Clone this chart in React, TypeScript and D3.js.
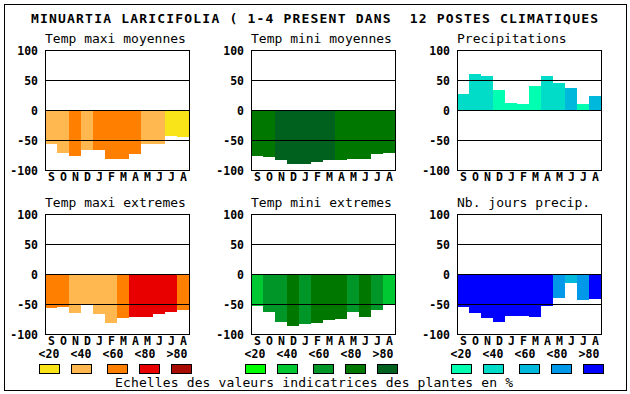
import React from "react";
import * as d3 from "d3";

const months = ["S", "O", "N", "D", "J", "F", "M", "A", "M", "J", "J", "A"];
const ticks = [100, 50, 0, -50, -100];
const gridVals = [50, 0, -50];
const classLabels = ["<20", "<40", "<60", "<80", ">80"];

// palettes (yellow->dark red, greens, blues)
const warmColors = ["#F8E418", "#FFB84F", "#FF8000", "#E80000", "#A80C00"];
const greenColors = ["#00FF00", "#00C832", "#009628", "#007800", "#00601E"];
const blueColors = ["#00FFB0", "#00DCC8", "#00B8DC", "#0098E8", "#0000FF"];

// values per month (S..A) and colour class (0..4)
const tmaxMoy = [-56, -72, -77, -66, -67, -81, -81, -74, -57, -57, -44, -45];
const tmaxMoyCls = [1, 1, 2, 1, 2, 2, 2, 2, 1, 1, 0, 0];
const tminMoy = [-76, -78, -84, -90, -90, -87, -84, -84, -82, -82, -74, -72];
const tminMoyCls = [3, 3, 4, 4, 4, 4, 4, 3, 3, 3, 3, 3];
const precip = [27, 60, 57, 34, 12, 10, 40, 57, 45, 37, 10, 24];
const precipCls = [1, 1, 1, 0, 0, 0, 0, 1, 1, 2, 0, 2];
const tmaxExt = [-57, -55, -65, -52, -67, -82, -74, -71, -71, -67, -64, -60];
const tmaxExtCls = [2, 2, 1, 1, 1, 1, 2, 3, 3, 3, 3, 2];
const tminExt = [-54, -64, -80, -86, -84, -82, -77, -75, -64, -71, -60, -52];
const tminExtCls = [1, 2, 2, 3, 2, 3, 3, 3, 2, 3, 2, 1];
const nbJours = [-55, -65, -74, -80, -70, -70, -72, -54, -40, -15, -44, -42];
const nbJoursCls = [4, 4, 4, 4, 4, 4, 4, 4, 3, 2, 3, 4];

const panels = [
  { title: "Temp maxi moyennes", values: tmaxMoy, cls: tmaxMoyCls, colors: warmColors, col: 0, row: 0 },
  { title: "Temp mini moyennes", values: tminMoy, cls: tminMoyCls, colors: greenColors, col: 1, row: 0 },
  { title: "Precipitations", values: precip, cls: precipCls, colors: blueColors, col: 2, row: 0 },
  { title: "Temp maxi extremes", values: tmaxExt, cls: tmaxExtCls, colors: warmColors, col: 0, row: 1 },
  { title: "Temp mini extremes", values: tminExt, cls: tminExtCls, colors: greenColors, col: 1, row: 1 },
  { title: "Nb. jours precip.", values: nbJours, cls: nbJoursCls, colors: blueColors, col: 2, row: 1 },
];

const legends = [warmColors, greenColors, blueColors];

const mono = "'DejaVu Sans Mono', monospace";
const W = 144;
const H = 120;

const Panel = ({ p }) => {
  const x0 = 45 + p.col * 206;
  const y0 = 50 + p.row * 164;
  const x = d3.scaleBand().domain(d3.range(12)).range([x0, x0 + W]).padding(0);
  const y = d3.scaleLinear().domain([-100, 100]).range([y0 + H, y0]);

  return (
    <g>
      <text x={x0} y={y0 - 7.5} fontFamily={mono} fontSize={13} fill="#000">
        {p.title}
      </text>
      {p.values.map((v, i) => (
        <rect
          key={i}
          x={x(i)}
          width={x.bandwidth()}
          y={Math.min(y(0), y(v))}
          height={Math.abs(y(v) - y(0))}
          fill={p.colors[p.cls[i]]}
          shapeRendering="crispEdges"
        />
      ))}
      {gridVals.map((g) => (
        <line
          key={g}
          x1={x0}
          x2={x0 + W}
          y1={y(g) + 0.5}
          y2={y(g) + 0.5}
          stroke="#000"
          strokeWidth={1}
          shapeRendering="crispEdges"
        />
      ))}
      <rect
        x={x0 + 0.5}
        y={y0 + 0.5}
        width={W}
        height={H}
        fill="none"
        stroke="#000"
        strokeWidth={1}
        shapeRendering="crispEdges"
      />
      {ticks.map((t) => (
        <text
          key={t}
          x={x0 - 7}
          y={y(t)}
          dy="0.4em"
          textAnchor="end"
          fontFamily={mono}
          fontWeight="bold"
          fontSize={11.5}
          fill="#000"
        >
          {t}
        </text>
      ))}
      {months.map((m, i) => (
        <text
          key={i}
          x={x(i) + x.bandwidth() / 2 + 0.5}
          y={y0 + H + 11}
          textAnchor="middle"
          fontFamily={mono}
          fontWeight="bold"
          fontSize={11.5}
          fill="#000"
        >
          {m}
        </text>
      ))}
    </g>
  );
};

export default function App() {
  return (
    <svg
      width={630}
      height={394}
      style={{ position: "absolute", left: 0, top: 0, display: "block", background: "#fff" }}
    >
      <rect x={0} y={0} width={630} height={394} fill="#fff" />
      <rect
        x={4.5}
        y={4.5}
        width={622}
        height={386}
        fill="none"
        stroke="#000"
        strokeWidth={1}
        shapeRendering="crispEdges"
      />
      <text
        x={31}
        y={22.5}
        fontFamily={mono}
        fontWeight="bold"
        fontSize={13}
        textLength={567}
        lengthAdjust="spacing"
        fill="#000"
        style={{ whiteSpace: "pre" }}
      >
        {"MINUARTIA LARICIFOLIA ( 1-4 PRESENT DANS  12 POSTES CLIMATIQUES"}
      </text>
      {panels.map((p, k) => (
        <Panel key={k} p={p} />
      ))}
      {legends.map((cols, g) => (
        <g key={g} transform={`translate(${g * 206},0)`}>
          {classLabels.map((lab, i) => (
            <text
              key={lab}
              x={49 + i * 32}
              y={357.5}
              textAnchor="middle"
              fontFamily={mono}
              fontWeight="bold"
              fontSize={11.5}
              fill="#000"
            >
              {lab}
            </text>
          ))}
          {cols.map((c, i) => (
            <rect
              key={i}
              x={39.5 + i * 32 + (i >= 2 ? 4 : 0)}
              y={364.5}
              width={20}
              height={9}
              fill={c}
              stroke="#000"
              strokeWidth={1}
              shapeRendering="crispEdges"
            />
          ))}
        </g>
      ))}
      <text
        x={115}
        y={386.5}
        fontFamily={mono}
        fontSize={13}
        textLength={398}
        lengthAdjust="spacing"
        fill="#000"
      >
        Echelles des valeurs indicatrices des plantes en %
      </text>
    </svg>
  );
}
